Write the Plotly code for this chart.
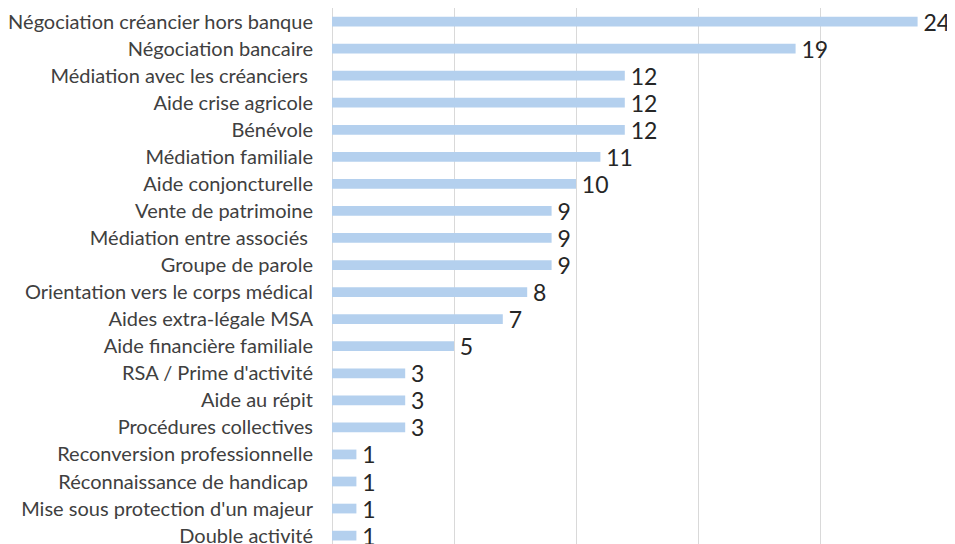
import plotly.graph_objects as go

categories = [
    "Négociation créancier hors banque",
    "Négociation bancaire",
    "Médiation avec les créanciers\u00a0",
    "Aide crise agricole",
    "Bénévole",
    "Médiation familiale",
    "Aide conjoncturelle",
    "Vente de patrimoine",
    "Médiation entre associés\u00a0",
    "Groupe de parole",
    "Orientation vers le corps médical",
    "Aides extra-légale MSA",
    "Aide financière familiale",
    "RSA / Prime d'activité",
    "Aide au répit",
    "Procédures collectives",
    "Reconversion professionnelle",
    "Réconnaissance de handicap\u00a0",
    "Mise sous protection d'un majeur",
    "Double activité",
]
values = [24, 19, 12, 12, 12, 11, 10, 9, 9, 9, 8, 7, 5, 3, 3, 3, 1, 1, 1, 1]

fig = go.Figure(go.Bar(
    x=values,
    y=categories,
    orientation="h",
    marker=dict(color="#B4D0EE", line=dict(width=0)),
    text=["\u2009" + str(v) for v in values],
    textposition="outside",
    constraintext="none",
    textfont=dict(size=23, color="#262626", family="Lato, sans-serif"),
    cliponaxis=False,
    width=0.36,
))

# page body has an 8px default margin, so the figure is drawn 8px in from the top-left
fig.update_layout(
    width=947, height=536,
    margin=dict(l=324, r=13, t=0, b=0, autoexpand=False),
    paper_bgcolor="white", plot_bgcolor="white",
    showlegend=False,
    font=dict(family="Lato, sans-serif"),
    xaxis=dict(range=[0, 25], dtick=5, showticklabels=False, automargin=False,
               showgrid=True, gridcolor="#D9D9D9", gridwidth=1,
               zeroline=True, zerolinecolor="#D9D9D9", zerolinewidth=1,
               showline=False),
    yaxis=dict(range=[19.31, -0.5], type="category", automargin=False,
               tickfont=dict(size=20, color="#404040", family="Lato, sans-serif"),
               ticklabelstandoff=18, showgrid=False, showline=False, ticks=""),
)

fig.write_html("out.html")
